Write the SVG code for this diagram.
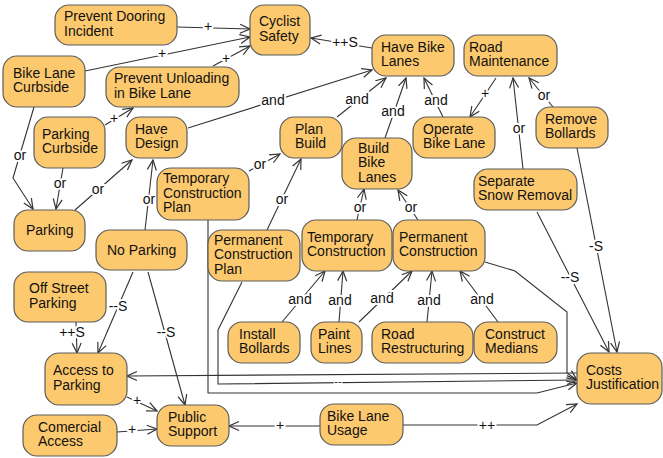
<svg xmlns="http://www.w3.org/2000/svg" width="663" height="458" viewBox="0 0 663 458">
<style>
.n rect{fill:#FDC96E;stroke:#5c5c5c;stroke-width:1.2}
.n text{font-family:"Liberation Sans",Arial,sans-serif;font-size:14px;fill:#111}
.c path{fill:none;stroke:#333;stroke-width:1.1;marker-end:url(#a)}
.l text{font-family:"Liberation Sans",Arial,sans-serif;font-size:14px;fill:#111;text-anchor:middle;paint-order:stroke;stroke:#fff;stroke-width:4px;stroke-linejoin:round}
</style>
<defs>
<marker id="a" markerUnits="userSpaceOnUse" markerWidth="12" markerHeight="12" refX="11" refY="6" orient="auto">
<path d="M1,1.5 L11,6 L1,10.5" fill="none" stroke="#333" stroke-width="1.2"/>
</marker>
</defs>
<rect width="663" height="458" fill="#fff"/>
<g id="connectors">
<g class="c">
<path d="M177,27 L250,29"/>
<path d="M85,71 L250,37"/>
<path d="M213,66 L250,46"/>
<path d="M105,125 L133,108"/>
<path d="M188,128 L372,70"/>
<path d="M337,117 L386,78"/>
<path d="M385,138 L406,78"/>
<path d="M443,117 L424,78"/>
<path d="M496,78 L470,117"/>
<path d="M523,169 L513,78"/>
<path d="M553,107 L529,78"/>
<path d="M372,48 L311,38"/>
<path d="M34,107 L13,178 L33,209"/>
<path d="M63,168 L56,209"/>
<path d="M75,210 L132,160"/>
<path d="M145,230 L153,160"/>
<path d="M249,171 L280,154"/>
<path d="M267,230 L301,159"/>
<path d="M357,220 L364,189"/>
<path d="M418,220 L398,190"/>
<path d="M282,322 L325,271"/>
<path d="M339,322 L343,271"/>
<path d="M359,322 L412,271"/>
<path d="M427,322 L432,271"/>
<path d="M498,322 L460,271"/>
<path d="M485,262 L515,271 L567,312 L567,373 L577,380"/>
<path d="M577,373 L127,376"/>
<path d="M242,282 L218,330 L218,384 L577,380"/>
<path d="M208,220 L208,393 L537,393 L577,383"/>
<path d="M537,212 L609,352"/>
<path d="M577,148 L617,352"/>
<path d="M403,425 L537,425 L577,404"/>
<path d="M320,426 L229,426"/>
<path d="M127,397 L157,411"/>
<path d="M117,432 L157,429"/>
<path d="M148,272 L185,405"/>
<path d="M133,272 L98,353"/>
<path d="M76,322 L77,353"/>
</g>
<g class="l">
<text x="208" y="31">+</text>
<text x="162" y="58">+</text>
<text x="226" y="63">+</text>
<text x="114" y="123">+</text>
<text x="273" y="105">and</text>
<text x="357" y="104">and</text>
<text x="393" y="116">and</text>
<text x="436" y="105">and</text>
<text x="485" y="98">+</text>
<text x="519" y="133">or</text>
<text x="544" y="100">or</text>
<text x="345" y="47">++S</text>
<text x="20" y="160">or</text>
<text x="60" y="188">or</text>
<text x="98" y="194">or</text>
<text x="149" y="204">or</text>
<text x="260" y="169">or</text>
<text x="282" y="204">or</text>
<text x="360" y="212">or</text>
<text x="411" y="212">or</text>
<text x="300" y="304">and</text>
<text x="340" y="305">and</text>
<text x="382" y="303">and</text>
<text x="429" y="305">and</text>
<text x="482" y="304">and</text>
<text x="570" y="282">--S</text>
<text x="596" y="251">-S</text>
<text x="487" y="430">++</text>
<text x="280" y="430">+</text>
<text x="137" y="405">+</text>
<text x="132" y="434">+</text>
<text x="166" y="337">--S</text>
<text x="118" y="311">--S</text>
<text x="72" y="337">++S</text>
<text x="338" y="385" style="font-size:11px;stroke-width:2px">--</text>
</g>
</g>
<g id="dooring" class="n"><rect x="55" y="5" width="122" height="40" rx="14"/><text x="64" y="21">Prevent Dooring</text><text x="64" y="35.5">Incident</text></g>
<g id="safety" class="n"><rect x="250" y="5" width="60" height="50" rx="14"/><text x="259" y="26">Cyclist</text><text x="259" y="40.5">Safety</text></g>
<g id="blcurb" class="n"><rect x="3" y="56" width="82" height="51" rx="14"/><text x="13" y="77.5">Bike Lane</text><text x="13" y="92">Curbside</text></g>
<g id="unload" class="n"><rect x="106" y="67" width="133" height="40" rx="14"/><text x="114" y="83">Prevent Unloading</text><text x="114" y="97.5">in Bike Lane</text></g>
<g id="pcurb" class="n"><rect x="34" y="117" width="71" height="51" rx="14"/><text x="42" y="138.5">Parking</text><text x="42" y="153">Curbside</text></g>
<g id="design" class="n"><rect x="126" y="117" width="61" height="41" rx="14"/><text x="135" y="133.5">Have</text><text x="135" y="148">Design</text></g>
<g id="planbuild" class="n"><rect x="280" y="117" width="62" height="41" rx="14"/><text x="295" y="133.5">Plan</text><text x="295" y="148">Build</text></g>
<g id="havebikelanes" class="n"><rect x="372" y="35" width="82" height="41" rx="14"/><text x="381" y="51.5">Have Bike</text><text x="381" y="66">Lanes</text></g>
<g id="roadmaint" class="n"><rect x="464" y="35" width="93" height="41" rx="14"/><text x="469" y="51.5">Road</text><text x="469" y="66">Maintenance</text></g>
<g id="operate" class="n"><rect x="413" y="117" width="82" height="41" rx="14"/><text x="423" y="133.5">Operate</text><text x="423" y="148">Bike Lane</text></g>
<g id="removebollards" class="n"><rect x="536" y="107" width="72" height="41" rx="14"/><text x="545" y="123.5">Remove</text><text x="545" y="138">Bollards</text></g>
<g id="buildbikelanes" class="n"><rect x="342" y="138" width="70" height="51" rx="14"/><text x="358" y="152.5">Build</text><text x="358" y="167">Bike</text><text x="358" y="181.5">Lanes</text></g>
<g id="parking" class="n"><rect x="14" y="210" width="71" height="41" rx="14"/><text x="26" y="234.5">Parking</text></g>
<g id="tcp" class="n"><rect x="157" y="168" width="92" height="52" rx="14"/><text x="163" y="183">Temporary</text><text x="163" y="197.5">Construction</text><text x="163" y="212">Plan</text></g>
<g id="noparking" class="n"><rect x="96" y="230" width="91" height="40" rx="14"/><text x="107" y="254.5">No Parking</text></g>
<g id="pcp" class="n"><rect x="208" y="230" width="92" height="51" rx="14"/><text x="214" y="244.5">Permanent</text><text x="214" y="259">Construction</text><text x="214" y="273.5">Plan</text></g>
<g id="tempconst" class="n"><rect x="302" y="220" width="90" height="51" rx="14"/><text x="307" y="241.5">Temporary</text><text x="307" y="256">Construction</text></g>
<g id="permconst" class="n"><rect x="393" y="220" width="92" height="51" rx="14"/><text x="399" y="241.5">Permanent</text><text x="399" y="256">Construction</text></g>
<g id="snow" class="n"><rect x="474" y="169" width="103" height="41" rx="14"/><text x="478" y="185.5">Separate</text><text x="478" y="200">Snow Removal</text></g>
<g id="offstreet" class="n"><rect x="14" y="272" width="92" height="50" rx="14"/><text x="29" y="293">Off Street</text><text x="29" y="307.5">Parking</text></g>
<g id="installbollards" class="n"><rect x="228" y="322" width="72" height="41" rx="14"/><text x="239" y="338.5">Install</text><text x="239" y="353">Bollards</text></g>
<g id="paintlines" class="n"><rect x="311" y="322" width="51" height="41" rx="14"/><text x="318" y="338.5">Paint</text><text x="318" y="353">Lines</text></g>
<g id="restructuring" class="n"><rect x="372" y="322" width="101" height="41" rx="14"/><text x="381" y="338.5">Road</text><text x="381" y="353">Restructuring</text></g>
<g id="medians" class="n"><rect x="474" y="322" width="83" height="41" rx="14"/><text x="485" y="338.5">Construct</text><text x="485" y="353">Medians</text></g>
<g id="access" class="n"><rect x="45" y="353" width="82" height="52" rx="14"/><text x="53" y="375">Access to</text><text x="53" y="389.5">Parking</text></g>
<g id="costs" class="n"><rect x="577" y="353" width="85" height="51" rx="14"/><text x="586" y="374.5">Costs</text><text x="586" y="389">Justification</text></g>
<g id="public" class="n"><rect x="157" y="405" width="72" height="41" rx="14"/><text x="168" y="421.5">Public</text><text x="168" y="436">Support</text></g>
<g id="comercial" class="n"><rect x="23" y="415" width="94" height="41" rx="14"/><text x="38" y="431.5">Comercial</text><text x="38" y="446">Access</text></g>
<g id="usage" class="n"><rect x="320" y="404" width="83" height="41" rx="14"/><text x="327" y="420.5">Bike Lane</text><text x="327" y="435">Usage</text></g>
</svg>
